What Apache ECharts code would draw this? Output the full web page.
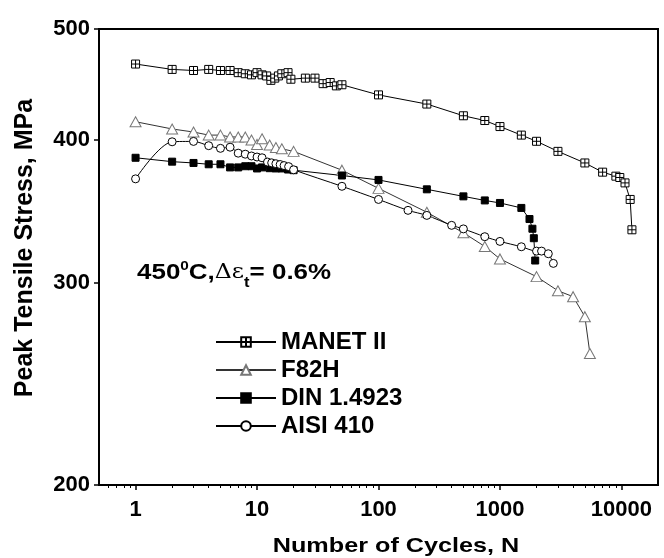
<!DOCTYPE html>
<html>
<head>
<meta charset="utf-8">
<title>Peak Tensile Stress vs Number of Cycles</title>
<script src="https://cdn.jsdelivr.net/npm/echarts@6/dist/echarts.min.js"></script>
<style>
  html, body { margin: 0; padding: 0; background: #fff; }
  #chart { width: 664px; height: 558px; }
</style>
</head>
<body>
<div id="chart"></div>
<script>
// tick values
var xMajorTicks = [1, 10, 100, 1000, 10000];
var xMinorTicks = [0.6, 0.7, 0.8, 0.9,
                   2, 3, 4, 5, 6, 7, 8, 9,
                   20, 30, 40, 50, 60, 70, 80, 90,
                   200, 300, 400, 500, 600, 700, 800, 900,
                   2000, 3000, 4000, 5000, 6000, 7000, 8000, 9000];
var yTicks = [200, 300, 400, 500];

// MANET II
var manetN = [1, 2, 3, 4, 5, 6, 7, 8, 9, 10, 11, 12, 13, 14, 15, 16, 18, 19, 25, 30, 35, 40, 45, 50,
              100, 250, 500, 750, 1000, 1500, 2000, 3000, 5000, 7000, 9000, 9700, 10700, 11800, 12200];
var manetS = [466, 461, 460, 461, 460, 460, 458, 457, 456, 458, 456, 455, 451, 453, 455, 457, 458, 452, 453, 453, 448, 449, 446, 447,
              438, 430, 420, 416, 411, 404, 399, 391, 382, 375, 372, 371, 367, 355, 334];

// F82H
var f82hN = [1, 2, 3, 4, 5, 6, 7, 8, 9, 10, 11, 12.7, 14.3, 16, 20, 50, 100, 250, 500, 750, 1000, 2000, 3000, 4000, 5000, 5500];
var f82hS = [415, 409, 406.5, 404, 404, 402.5, 402.5, 402.5, 400, 396.5, 401, 396, 394, 393, 391, 376.5, 363, 346, 332, 323, 315, 304, 295.5, 292, 280.5, 260.5];

// DIN 1.4923
var dinN = [1, 2, 3, 4, 5, 6, 7, 8, 9, 10, 11, 12.7, 14.3, 16, 18, 20, 50, 100, 250, 500, 750, 1000, 1500, 1750, 1850, 1900, 1950];
var dinS = [386, 383, 382, 381, 381, 378.6, 378.6, 379.5, 379.5, 377.8, 378.6, 378, 377.8, 377.8, 377, 376.5, 372.5, 369.2, 362.3, 357.2, 354.3, 352.5, 349, 341.3, 334.7, 328.4, 314];

// AISI 410
var aisiN = [1, 2, 3, 4, 5, 6, 7, 8, 9, 10, 11, 12.2, 13.2, 14.3, 15.5, 16.7, 18.2, 20, 50, 100, 175, 250, 400, 500, 750, 1000, 1500, 2000, 2200, 2500, 2750];
var aisiS = [370, 398.6, 398.9, 395.5, 393.4, 394.3, 389.6, 388.8, 387.4, 386.6, 386, 382.7, 382.1, 381.4, 380.8, 380, 379.2, 376.8, 364.5, 355, 347.3, 343.8, 337, 334.6, 329.4, 326.3, 322.8, 320, 320, 318.3, 312.2];

function pairs(xs, ys) {
  var out = [];
  for (var i = 0; i < xs.length; i++) out.push([xs[i], ys[i]]);
  return out;
}

var FONT = 'Liberation Sans, Arial, sans-serif';
var crossSquare = 'path://M0,0L10,0L10,10L0,10Z M5,0L5,10 M0,5L10,5';

var chart = echarts.init(document.getElementById('chart'));

var option = {
  backgroundColor: '#fff',
  animation: false,
  grid: {
    left: 99, top: 29, right: 6, bottom: 73,
    show: true, borderColor: '#000', borderWidth: 2, backgroundColor: 'transparent'
  },
  legend: {
    orient: 'vertical',
    left: 215, top: 330,
    itemWidth: 60, itemHeight: 12, itemGap: 4,
    padding: 0,
    textStyle: { fontFamily: FONT, fontSize: 24, fontWeight: 'bold', color: '#000', lineHeight: 22 },
    data: ['MANET II', 'F82H', 'DIN 1.4923', 'AISI 410']
  },
  xAxis: [{
    type: 'log', logBase: 10, min: 0.5, max: 20000,
    axisLine: { lineStyle: { color: '#000', width: 2 } },
    axisTick: { inside: false, length: 5, lineStyle: { color: '#000', width: 1.5 }, customValues: xMajorTicks },
    axisLabel: {
      fontFamily: FONT, fontSize: 22, fontWeight: 'bold', color: '#000', margin: 14,
      customValues: xMajorTicks,
      formatter: function (v) { return String(Math.round(v)); }
    },
    splitLine: { show: false }
  }, {
    type: 'log', logBase: 10, min: 0.5, max: 20000, position: 'bottom',
    axisLine: { show: false },
    axisTick: { inside: false, length: 3, lineStyle: { color: '#000', width: 1 }, customValues: xMinorTicks },
    axisLabel: { show: false },
    splitLine: { show: false }
  }],
  yAxis: {
    type: 'log', logBase: 10, min: 200, max: 500,
    axisLine: { lineStyle: { color: '#000', width: 2 } },
    axisTick: { inside: false, length: 5, lineStyle: { color: '#000', width: 1.5 }, customValues: yTicks },
    axisLabel: {
      fontFamily: FONT, fontSize: 22, fontWeight: 'bold', color: '#000', margin: 9,
      customValues: yTicks,
      formatter: function (v) { return String(Math.round(v)); }
    },
    splitLine: { show: false }
  },
  graphic: [{
    type: 'text', x: 396, y: 546, scaleX: 1.2,
    style: {
      text: 'Number of Cycles, N', fill: '#000', align: 'center', verticalAlign: 'middle',
      fontFamily: FONT, fontSize: 21, fontWeight: 'bold'
    }
  }, {
    type: 'text', x: 25, y: 248, rotation: Math.PI / 2,
    style: {
      text: 'Peak Tensile Stress, MPa', fill: '#000', align: 'center', verticalAlign: 'middle',
      fontFamily: FONT, fontSize: 25, fontWeight: 'bold'
    }
  }, {
    type: 'text', x: 137, y: 256, scaleX: 1.18,
    style: {
      text: '{a|450}{s|0}{a|C,}{g|Δε}{t|t}{a|= 0.6%}',
      fill: '#000', verticalAlign: 'top',
      rich: {
        a: { fontFamily: FONT, fontSize: 22, fontWeight: 'bold', lineHeight: 34, verticalAlign: 'middle' },
        s: { fontFamily: FONT, fontSize: 13, fontWeight: 'bold', lineHeight: 34, verticalAlign: 'top', padding: [4, 0, 0, 0] },
        g: { fontFamily: 'DejaVu Serif, serif', fontSize: 20, lineHeight: 34, verticalAlign: 'middle' },
        t: { fontFamily: FONT, fontSize: 14, fontWeight: 'bold', lineHeight: 34, verticalAlign: 'bottom' }
      }
    }
  }],
  series: [{
    name: 'MANET II', type: 'line', data: pairs(manetN, manetS),
    symbol: crossSquare, symbolSize: 8,
    lineStyle: { color: '#000', width: 1 },
    itemStyle: { color: '#fff', borderColor: '#000', borderWidth: 1 }
  }, {
    name: 'F82H', type: 'line', data: pairs(f82hN, f82hS),
    symbol: 'triangle', symbolSize: [11, 10],
    lineStyle: { color: '#333', width: 1 },
    itemStyle: { color: '#fff', borderColor: '#777', borderWidth: 1 }
  }, {
    name: 'DIN 1.4923', type: 'line', data: pairs(dinN, dinS),
    symbol: 'rect', symbolSize: 7,
    lineStyle: { color: '#000', width: 1 },
    itemStyle: { color: '#000', borderColor: '#000', borderWidth: 1 }
  }, {
    name: 'AISI 410', type: 'line', data: pairs(aisiN, aisiS),
    symbol: 'circle', symbolSize: 8, smooth: 0.3,
    lineStyle: { color: '#000', width: 1 },
    itemStyle: { color: '#fff', borderColor: '#000', borderWidth: 1 }
  }]
};

chart.setOption(option);
</script>
</body>
</html>
